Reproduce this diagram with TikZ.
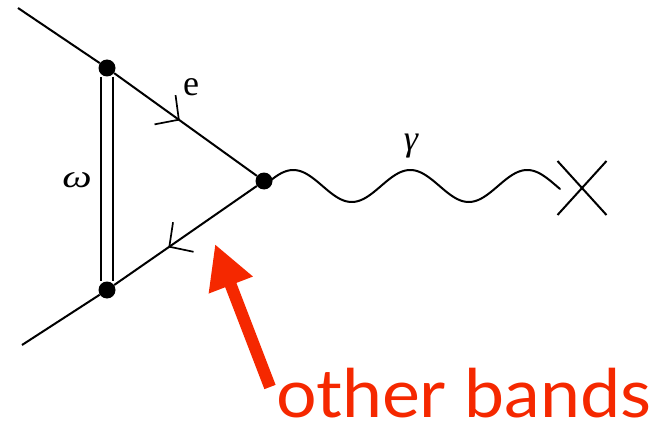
\documentclass[tikz,border=0pt]{standalone}
\usepackage{fontspec}
\newfontfamily\labelfont{Lato}
\newfontfamily\physfont{Liberation Serif}
\usetikzlibrary{arrows.meta,decorations.markings,shapes.misc}
\definecolor{annred}{RGB}{245,40,0}
\tikzset{
  vdot/.style={circle,fill=black,inner sep=0pt,minimum size=17pt},
  fline/.style={line width=2pt,postaction={decorate},
    decoration={markings,mark=at position #1 with {\arrow[line width=1.7pt]{Straight Barb[length=17pt,width=36pt]}}}},
  pline/.style={line width=2pt},
  lbl/.style={inner sep=0pt,font=\physfont\fontsize{36}{38}\selectfont},
}
\begin{document}
\begin{tikzpicture}[x=1pt,y=-1pt]
\useasboundingbox (0,0) rectangle (656,425);
% vertices
\node[vdot] (a) at (107,68) {};
\node[vdot] (b) at (107,290) {};
\node[vdot] (v) at (264,181) {};
\coordinate (p1) at (18,8);
\coordinate (p2) at (22,345);
% external legs
\draw[pline] (p1) -- (a);
\draw[pline] (b) -- (p2);
% propagator (double line)
\draw[line width=1.8pt,double=white,double distance=10pt] (a) -- (b);
% fermion lines
\draw[fline=0.46] (a) -- (v);
\draw[fline=0.62] (v) -- (b);
% photon
\coordinate (w) at (560,189);
\draw[pline,line cap=round] plot[domain=0:296,samples=160,smooth] ({264+\x},{186-16*sin(3.0769*\x)});
\node[cross out,draw,line width=2pt,minimum width=47pt,minimum height=52pt,inner sep=0pt] (xc) at (582,188) {};
% labels
\node[lbl,anchor=base] (lw) at (77,187) {\scalebox{1.3}[1]{\fontsize{32}{34}\selectfont\itshape ω}};
\node[lbl,anchor=base] (le) at (191,96) {e};
\node[lbl,anchor=base] (lg) at (411,151) {\itshape γ};
% annotation
\node[anchor=base west,inner sep=0pt,text depth=0pt,text=annred,font=\labelfont\fontsize{67}{70}\selectfont] (ob) at (276,417) {\scalebox{1.07}[1]{other bands}};
\coordinate (tail) at (270,387);
\coordinate (tip) at (215,244);
\draw[annred,line width=12pt,-{Triangle[length=44pt,width=44pt]}] (tail) -- (tip);
\end{tikzpicture}
\end{document}
